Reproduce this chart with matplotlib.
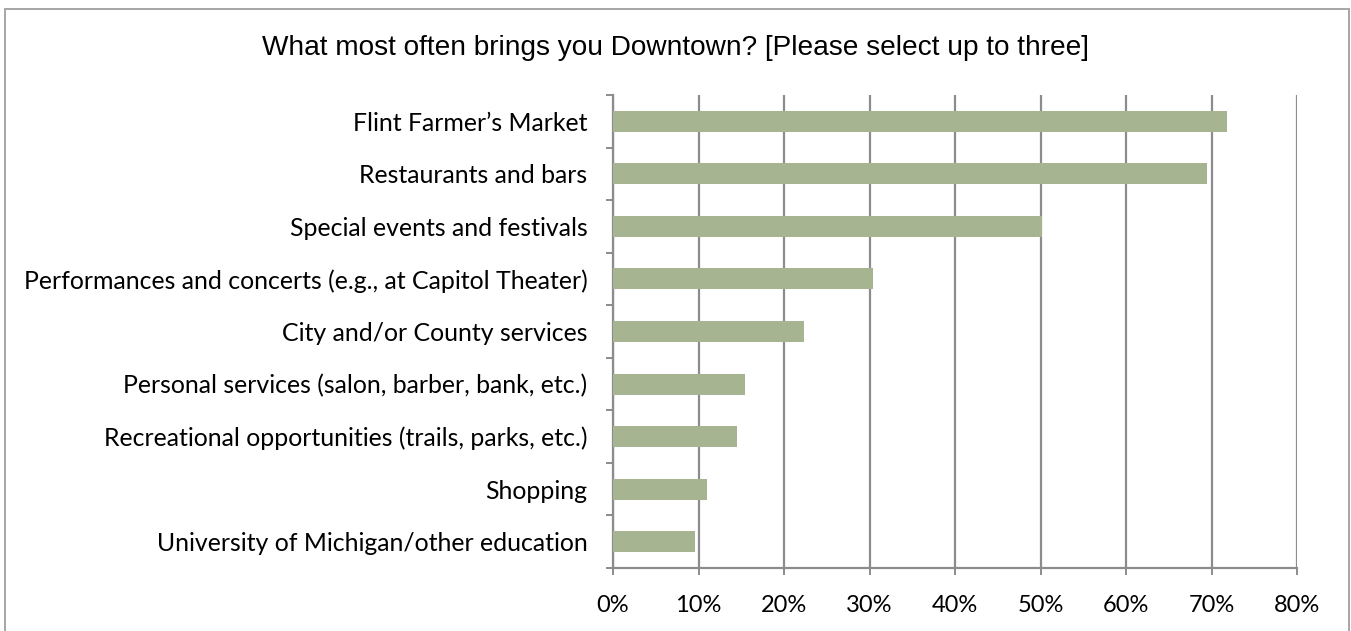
import matplotlib
matplotlib.use("Agg")
import matplotlib.pyplot as plt
from matplotlib.patches import Rectangle
from matplotlib.ticker import PercentFormatter
import numpy as np

categories = [
    "Flint Farmer\u2019s Market",
    "Restaurants and bars",
    "Special events and festivals",
    "Performances and concerts (e.g., at Capitol Theater)",
    "City and/or County services",
    "Personal services (salon, barber, bank, etc.)",
    "Recreational opportunities (trails, parks, etc.)",
    "Shopping",
    "University of Michigan/other education",
]
values = [71.8, 69.5, 50.2, 30.4, 22.3, 15.4, 14.5, 11.0, 9.6]
x_ticks = [0, 10, 20, 30, 40, 50, 60, 70, 80]

BAR_COLOR = "#a6b491"
GRID_COLOR = "#8c8c8c"
W, H = 1351, 631

fig = plt.figure(figsize=(W / 100, H / 100), dpi=100)
ax = fig.add_axes([613 / W, 1 - 568 / H, (1297 - 613) / W, (568 - 95) / H])

y = np.arange(len(categories))
ax.barh(y, values, height=0.4, color=BAR_COLOR, zorder=3)
ax.set_ylim(len(categories) - 0.5, -0.5)
ax.set_xlim(0, 80)

ax.set_xticks(x_ticks)
ax.xaxis.set_major_formatter(PercentFormatter(decimals=0))
ax.grid(axis="x", color=GRID_COLOR, linewidth=1.6, zorder=0)

ax.set_yticks(y)
ax.set_yticklabels(categories)
ax.set_yticks(np.arange(len(categories) + 1) - 0.5, minor=True)
ax.tick_params(axis="y", which="major", length=0, pad=18.5)
ax.tick_params(axis="y", which="minor", length=5, width=1.4, color=GRID_COLOR, direction="out")
ax.tick_params(axis="x", length=5, width=1.4, color=GRID_COLOR, pad=14.5)

for lab in ax.get_yticklabels():
    lab.set_family("Lato")
    lab.set_fontsize(17.9)
for lab in ax.get_xticklabels():
    lab.set_family("Lato")
    lab.set_fontsize(17)

for side in ["top", "right"]:
    ax.spines[side].set_visible(False)
for side in ["left", "bottom"]:
    ax.spines[side].set_color(GRID_COLOR)
    ax.spines[side].set_linewidth(1.6)

fig.text(676 / W, 1 - 48 / H, "What most often brings you Downtown? [Please select up to three]",
         ha="center", va="center", fontsize=20.2, family="Liberation Sans")

# outer chart frame, bottom edge runs past the image
fig.patches.append(Rectangle((5.5 / W, -0.05), (1349 - 5.5) / W, 1.05 - 9 / H,
                             transform=fig.transFigure, fill=False,
                             edgecolor="#a6a6a6", linewidth=1.4))

fig.savefig("out.png", dpi=100)
